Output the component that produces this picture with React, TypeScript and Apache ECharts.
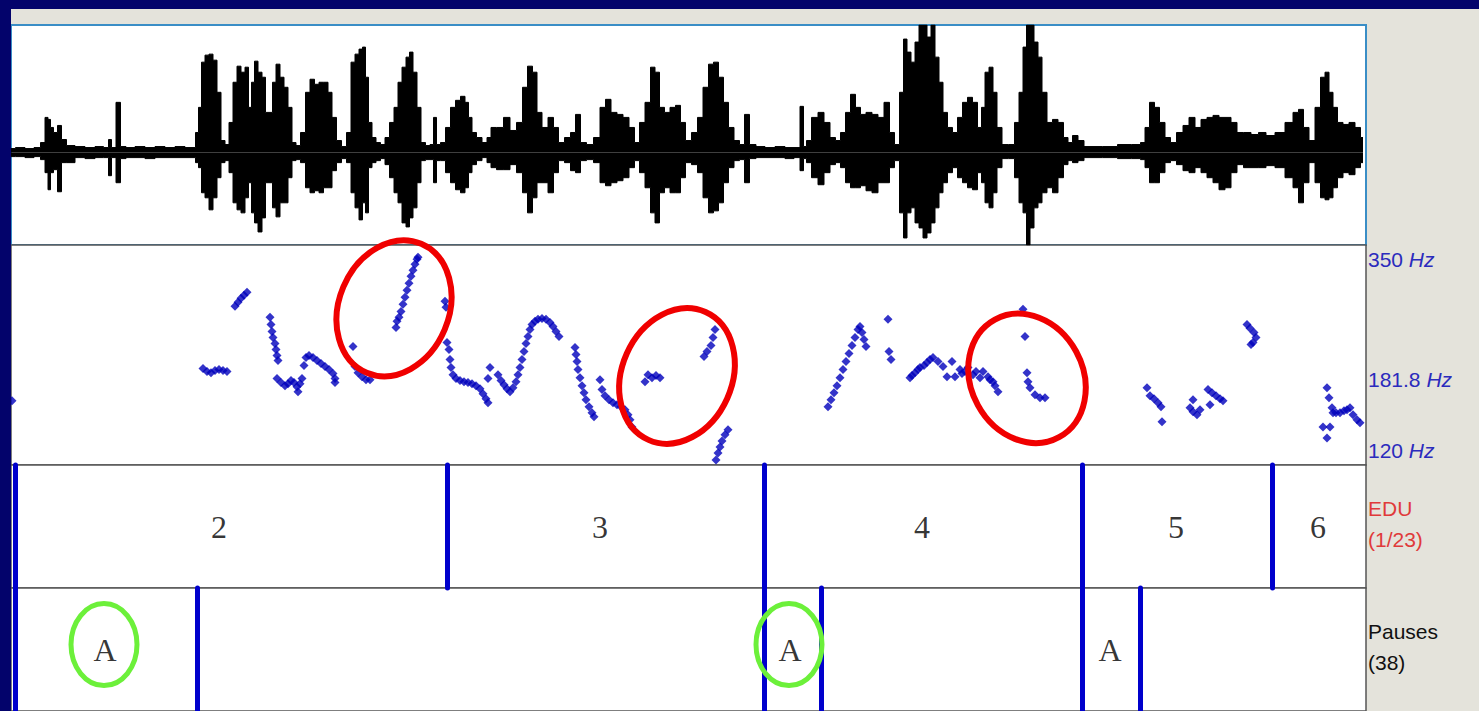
import React, { useEffect, useRef } from "react";
import * as echarts from "echarts";

// ---- time axis (seconds) ----
const TIME_MAX = 13.55;

// ---- waveform envelope: [time s, upper amplitude, lower amplitude] ----
const waveEnvelope: number[][] = [
  [0.00,0.04,-0.04],[0.09,0.05,-0.04],[0.19,0.04,-0.05],[0.27,0.05,-0.04],[0.32,0.10,-0.07],[0.36,0.35,-0.20],[0.38,0.33,-0.37],[0.41,0.25,-0.20],[0.44,0.20,-0.17],[0.49,0.27,-0.39],[0.52,0.13,-0.10],[0.59,0.07,-0.10],[0.69,0.06,-0.05],[0.79,0.05,-0.06],[0.89,0.06,-0.05],[0.96,0.05,-0.05],[0.99,0.13,-0.23],[1.02,0.05,-0.05],[1.08,0.50,-0.30],[1.11,0.06,-0.06],[1.19,0.05,-0.05],[1.29,0.06,-0.05],[1.39,0.05,-0.06],[1.49,0.06,-0.05],[1.59,0.05,-0.05],[1.69,0.06,-0.05],[1.79,0.05,-0.05],[1.83,0.05,-0.05],
  [1.86,0.20,-0.10],[1.89,0.45,-0.15],[1.92,0.90,-0.40],[1.96,0.97,-0.45],[2.00,0.98,-0.57],[2.04,0.92,-0.45],[2.08,0.60,-0.25],[2.12,0.12,-0.10],[2.16,0.08,-0.08],[2.20,0.30,-0.20],[2.24,0.70,-0.50],[2.28,0.86,-0.57],[2.32,0.80,-0.60],[2.36,0.85,-0.45],[2.39,0.45,-0.30],[2.42,0.70,-0.60],[2.45,0.91,-0.70],[2.49,0.80,-0.79],[2.53,0.75,-0.65],[2.56,0.40,-0.30],[2.60,0.40,-0.30],[2.63,0.70,-0.55],[2.67,0.88,-0.64],[2.71,0.75,-0.50],[2.75,0.65,-0.50],[2.79,0.45,-0.25],[2.83,0.10,-0.08],[2.87,0.07,-0.07],
  [2.92,0.20,-0.10],[2.97,0.60,-0.35],[3.01,0.73,-0.40],[3.06,0.68,-0.38],[3.10,0.70,-0.40],[3.15,0.70,-0.35],[3.19,0.60,-0.35],[3.23,0.35,-0.18],[3.28,0.12,-0.10],[3.33,0.06,-0.06],[3.38,0.20,-0.10],[3.42,0.90,-0.40],[3.46,0.98,-0.55],[3.50,1.03,-0.67],[3.53,1.05,-0.50],[3.56,0.75,-0.60],[3.59,0.30,-0.15],[3.63,0.15,-0.10],[3.67,0.10,-0.08],[3.72,0.08,-0.06],[3.76,0.15,-0.12],[3.81,0.30,-0.25],[3.85,0.45,-0.40],[3.89,0.70,-0.50],[3.93,0.85,-0.70],[3.97,0.95,-0.74],[4.00,1.00,-0.65],[4.04,0.80,-0.55],[4.08,0.45,-0.30],[4.12,0.10,-0.08],[4.17,0.07,-0.07],[4.21,0.08,-0.07],[4.24,0.35,-0.30],[4.27,0.08,-0.08],[4.32,0.10,-0.08],
  [4.37,0.25,-0.20],[4.42,0.45,-0.30],[4.47,0.52,-0.37],[4.52,0.56,-0.40],[4.56,0.50,-0.35],[4.59,0.35,-0.20],[4.63,0.20,-0.12],[4.68,0.15,-0.08],[4.74,0.10,-0.05],[4.78,0.15,-0.10],[4.82,0.25,-0.15],[4.89,0.25,-0.17],[4.96,0.35,-0.17],[5.02,0.22,-0.12],[5.09,0.30,-0.20],[5.14,0.65,-0.40],[5.19,0.86,-0.60],[5.24,0.80,-0.45],[5.28,0.40,-0.30],[5.34,0.25,-0.30],[5.40,0.35,-0.40],[5.45,0.25,-0.20],[5.50,0.10,-0.08],[5.57,0.15,-0.10],[5.62,0.20,-0.18],[5.67,0.38,-0.20],[5.72,0.10,-0.08],[5.79,0.08,-0.07],
  [5.86,0.15,-0.10],[5.92,0.45,-0.30],[5.97,0.53,-0.33],[6.03,0.40,-0.30],[6.09,0.38,-0.28],[6.15,0.35,-0.25],[6.21,0.25,-0.15],[6.26,0.10,-0.08],[6.31,0.30,-0.20],[6.37,0.50,-0.35],[6.42,0.85,-0.60],[6.46,0.80,-0.70],[6.51,0.45,-0.40],[6.56,0.40,-0.35],[6.62,0.45,-0.40],[6.67,0.47,-0.40],[6.72,0.30,-0.25],[6.77,0.12,-0.10],[6.84,0.20,-0.12],[6.89,0.35,-0.20],[6.95,0.65,-0.45],[7.00,0.88,-0.60],[7.05,0.90,-0.58],[7.10,0.75,-0.50],[7.15,0.50,-0.30],[7.20,0.25,-0.15],[7.26,0.12,-0.08],[7.31,0.08,-0.07],[7.36,0.38,-0.30],[7.41,0.08,-0.06],[7.49,0.06,-0.05],[7.59,0.05,-0.05],[7.69,0.06,-0.05],[7.79,0.05,-0.06],[7.87,0.05,-0.05],[7.91,0.46,-0.18],[7.94,0.06,-0.06],
  [7.97,0.12,-0.10],[8.04,0.35,-0.25],[8.10,0.40,-0.32],[8.16,0.30,-0.20],[8.22,0.15,-0.12],[8.27,0.12,-0.10],[8.32,0.20,-0.15],[8.37,0.40,-0.30],[8.42,0.58,-0.35],[8.47,0.45,-0.35],[8.52,0.38,-0.33],[8.58,0.40,-0.38],[8.64,0.38,-0.40],[8.70,0.35,-0.30],[8.76,0.50,-0.30],[8.81,0.20,-0.15],[8.86,0.08,-0.08],[8.91,0.60,-0.60],[8.94,1.13,-0.85],[8.98,1.00,-0.60],[9.02,0.90,-0.55],[9.06,1.10,-0.70],[9.10,1.27,-0.75],[9.14,1.27,-0.85],[9.18,1.15,-0.80],[9.22,1.27,-0.70],[9.26,0.95,-0.55],[9.30,0.70,-0.40],[9.34,0.40,-0.30],[9.39,0.25,-0.20],
  [9.44,0.20,-0.15],[9.49,0.35,-0.25],[9.54,0.50,-0.30],[9.59,0.55,-0.35],[9.64,0.50,-0.37],[9.69,0.25,-0.20],[9.72,0.45,-0.30],[9.76,0.80,-0.50],[9.80,0.85,-0.55],[9.84,0.60,-0.40],[9.88,0.25,-0.15],[9.94,0.08,-0.06],[10.01,0.08,-0.06],[10.06,0.30,-0.25],[10.10,0.60,-0.50],[10.14,1.05,-0.60],[10.17,1.27,-0.92],[10.21,1.27,-0.75],[10.25,1.10,-0.55],[10.29,0.95,-0.50],[10.33,0.60,-0.40],[10.39,0.30,-0.35],[10.44,0.33,-0.40],[10.50,0.30,-0.25],[10.55,0.15,-0.12],[10.59,0.10,-0.08],[10.64,0.17,-0.10],[10.70,0.12,-0.08],[10.76,0.06,-0.05],[10.84,0.06,-0.05],[10.99,0.06,-0.05],[11.14,0.08,-0.06],[11.27,0.08,-0.06],[11.32,0.10,-0.07],
  [11.36,0.25,-0.15],[11.41,0.50,-0.30],[11.46,0.45,-0.30],[11.51,0.30,-0.20],[11.57,0.15,-0.10],[11.62,0.10,-0.08],[11.69,0.20,-0.12],[11.75,0.27,-0.18],[11.81,0.35,-0.20],[11.87,0.25,-0.15],[11.93,0.33,-0.20],[11.99,0.35,-0.25],[12.05,0.37,-0.30],[12.11,0.35,-0.37],[12.17,0.35,-0.35],[12.23,0.30,-0.20],[12.29,0.20,-0.12],[12.36,0.20,-0.15],[12.44,0.18,-0.15],[12.51,0.20,-0.15],[12.59,0.17,-0.13],[12.69,0.20,-0.15],[12.79,0.30,-0.25],[12.85,0.40,-0.35],[12.90,0.43,-0.50],[12.95,0.25,-0.30],[13.01,0.12,-0.10],[13.07,0.45,-0.30],[13.12,0.75,-0.45],[13.16,0.80,-0.47],[13.20,0.60,-0.45],[13.24,0.45,-0.35],[13.29,0.30,-0.25],[13.35,0.28,-0.20],[13.41,0.30,-0.22],[13.47,0.25,-0.15],[13.52,0.15,-0.10],
];
const WAVE_MIN = -0.92;
const WAVE_MAX = 1.27;

// ---- pitch track: [time s, semitones above 120 Hz] ----
const PITCH_REF_HZ = 120;
const PITCH_TOP_HZ = 350;
const pitchTickHz = [350, 181.8, 120];
const pitchPoints: number[][] = [
  [0.01,5.41],
  [1.92,8.12],[1.96,7.87],[2.00,7.78],[2.04,7.95],[2.08,8.04],[2.12,7.95],[2.16,7.87],
  [2.24,13.37],[2.27,13.71],[2.30,14.04],[2.33,14.30],[2.36,14.55],
  [2.59,12.44],[2.60,11.84],[2.61,11.25],[2.62,10.74],[2.64,10.24],[2.65,9.73],[2.66,9.22],[2.67,8.80],
  [2.66,7.28],[2.70,6.94],[2.74,6.68],[2.77,6.85],[2.80,7.11],[2.83,6.94],[2.86,6.60],[2.87,6.18],[2.89,6.85],[2.91,7.28],[2.93,8.38],[2.95,9.05],[2.98,9.22],[3.02,9.05],[3.06,8.80],[3.10,8.54],[3.14,8.29],[3.18,8.04],[3.22,7.70],[3.24,7.28],[3.24,6.94],
  [3.42,9.98],[3.44,8.29],[3.47,7.78],[3.51,7.44],[3.55,7.19],[3.59,7.19],
  [3.85,11.59],[3.86,12.10],[3.88,12.44],[3.90,12.94],[3.92,13.54],[3.94,14.13],[3.96,14.72],[3.98,15.31],[4.00,15.90],[4.02,16.41],[4.04,16.92],[4.06,17.34],[4.07,17.51],
  [4.34,13.79],[4.35,13.28],[4.36,10.32],[4.38,9.73],
  [4.39,8.88],[4.40,8.21],[4.42,7.61],[4.45,7.28],[4.49,7.11],[4.53,7.02],[4.57,6.94],[4.61,6.85],[4.65,6.68],[4.69,6.43],[4.72,6.01],[4.75,5.58],[4.77,5.25],[4.79,8.21],[4.77,7.28],
  [4.87,7.61],[4.90,7.11],[4.93,6.77],[4.96,6.43],[4.99,6.18],[5.02,6.51],[5.05,7.02],[5.07,7.61],[5.09,8.21],[5.11,8.88],[5.13,9.56],[5.15,10.24],[5.17,10.83],[5.19,11.42],[5.21,11.84],[5.24,12.10],[5.27,12.27],[5.31,12.35],[5.35,12.27],[5.39,12.01],[5.42,11.67],[5.45,11.25],[5.48,10.83],
  [5.64,9.90],[5.65,9.31],[5.66,8.71],[5.67,8.04],[5.69,7.36],[5.71,6.68],[5.73,6.09],[5.75,5.50],[5.78,4.91],[5.81,4.40],[5.83,4.06],
  [5.89,7.19],[5.91,6.35],[5.94,5.84],[5.98,5.50],[6.02,5.25],[6.06,5.08],[6.10,4.91],[6.14,4.65],[6.17,4.23],[6.19,3.81],[6.21,3.21],
  [6.34,7.02],[6.37,7.61],[6.41,7.36],[6.45,7.53],[6.49,7.36],
  [6.93,9.14],[6.96,9.56],[7.00,10.07],[7.02,10.74],[7.04,11.42],
  [7.05,0.42],[7.07,1.02],[7.09,1.52],[7.11,2.03],[7.14,2.54],[7.17,2.96],
  [8.17,4.91],[8.20,5.50],[8.23,6.09],[8.26,6.68],[8.29,7.36],[8.32,8.04],[8.35,8.71],[8.38,9.39],[8.41,10.07],[8.44,10.74],[8.47,11.42],[8.49,11.67],[8.51,11.17],[8.53,10.58],[8.55,9.98],
  [8.77,12.27],[8.78,9.56],[8.80,8.88],
  [8.99,7.36],[9.01,7.53],[9.04,7.78],[9.07,8.04],[9.09,8.21],[9.13,8.38],[9.16,8.63],[9.19,8.88],[9.22,9.05],[9.27,8.71],[9.32,8.29],[9.36,7.44],[9.41,8.71],[9.44,7.44],[9.49,8.04],[9.51,7.70],[9.54,7.87],[9.57,8.21],[9.62,7.61],[9.65,7.87],[9.69,7.36],[9.72,7.87],[9.77,7.44],[9.79,7.19],[9.82,7.02],[9.84,6.68],[9.87,6.18],
  [10.12,13.11],[10.14,10.83],[10.16,7.78],[10.17,7.02],[10.19,6.51],[10.24,5.92],[10.29,5.67],[10.34,5.67],
  [11.36,6.51],[11.39,5.84],[11.43,5.58],[11.47,5.25],[11.50,4.91],[11.51,3.64],
  [11.79,4.82],[11.82,5.50],[11.82,4.48],[11.86,4.23],[11.89,4.65],[11.97,6.35],[11.99,5.08],[12.01,6.09],[12.05,5.84],[12.09,5.58],[12.12,5.41],
  [12.36,11.84],[12.39,11.51],[12.42,10.32],[12.40,10.15],[12.43,11.17],[12.45,10.74],
  [13.12,3.21],[13.16,6.51],[13.16,2.28],[13.18,5.67],[13.19,3.21],[13.21,4.82],[13.22,4.40],[13.25,4.40],[13.29,4.40],[13.33,4.57],[13.36,4.65],[13.39,4.82],[13.42,4.23],[13.46,3.81],[13.49,3.55],
];

// ---- annotation tiers ----
const eduBoundaries = [0.04, 4.36, 7.53, 10.71, 12.61];
const eduLabels = ["2", "3", "4", "5", "6"];
const eduLabelTimes = [2.08, 5.89, 9.11, 11.65, 13.07];
const pauseBoundaries = [0.04, 1.86, 7.53, 8.10, 10.71, 11.29];
const pauseLabels = ["A", "A", "A"];
const pauseLabelTimes = [0.94, 7.79, 10.99];
const tierNames = [["EDU", "(1/23)"], ["Pauses", "(38)"]];

// ---- highlight marks (time, value in their panel) ----
const redMarks = [[3.83, 13.2], [6.66, 7.5], [10.16, 7.3]];
const greenMarks = [[0.93, 0.54], [7.78, 0.54]];

const st = (hz: number) => 12 * Math.log2(hz / PITCH_REF_HZ);

const SANS = '"Liberation Sans", Arial, sans-serif';
const SERIF = '"Liberation Serif", "Times New Roman", serif';
const BLUE_TXT = "#2b2bbd";
const BOUND = "#0000cc";

export default function App() {
  const ref = useRef<HTMLDivElement>(null);
  useEffect(() => {
    const el = ref.current!;
    const chart = echarts.init(el, null, { renderer: "svg" });
    const L = 11, W = 1355;
    const gridBase = { left: L, width: W, show: true, backgroundColor: "#ffffff" };
    const tierSeries = (gi: number, labels: string[], times: number[], bounds: number[]) => ({
      type: "scatter",
      xAxisIndex: gi,
      yAxisIndex: gi,
      symbol: "circle",
      symbolSize: 1,
      itemStyle: { color: "rgba(0,0,0,0)" },
      silent: true,
      data: labels.map((lab, i) => ({ name: lab, value: [times[i], 0.5] })),
      label: {
        show: true,
        position: "inside",
        formatter: "{b}",
        fontFamily: SERIF,
        fontSize: 32,
        color: "#000",
      },
      markLine: {
        silent: true,
        symbol: "none",
        label: { show: false },
        lineStyle: { color: BOUND, width: 5, type: "solid", cap: "round" },
        data: bounds.map((t) => ({ xAxis: t })),
      },
    });
    const waveSeries = (col: number) => ({
      type: "line",
      xAxisIndex: 0,
      yAxisIndex: 0,
      showSymbol: false,
      silent: true,
      step: "middle",
      data: waveEnvelope.map((d) => [d[0], d[col]]),
      lineStyle: { color: "#000", width: 1 },
      areaStyle: { color: "#000", opacity: 1 },
    });
    const option: any = {
      animation: false,
      backgroundColor: "#e4e3db",
      grid: [
        { ...gridBase, top: 25, height: 220, borderColor: "#3a8ec6", borderWidth: 2 },
        { ...gridBase, top: 245, height: 220, borderColor: "#555", borderWidth: 1.5 },
        { ...gridBase, top: 465, height: 123, borderColor: "#555", borderWidth: 1.5 },
        { ...gridBase, top: 588, height: 123, borderColor: "#555", borderWidth: 1.5 },
      ],
      xAxis: [0, 1, 2, 3].map((i) => ({ type: "value", gridIndex: i, min: 0, max: TIME_MAX, show: false })),
      yAxis: [
        { type: "value", gridIndex: 0, min: WAVE_MIN, max: WAVE_MAX, show: false },
        { type: "value", gridIndex: 1, min: 0, max: st(PITCH_TOP_HZ), show: false },
        { type: "value", gridIndex: 2, min: 0, max: 1, show: false },
        { type: "value", gridIndex: 3, min: 0, max: 1, show: false },
      ],
      series: [
        waveSeries(1),
        waveSeries(2),
        {
          type: "scatter",
          xAxisIndex: 1,
          yAxisIndex: 1,
          symbol: "diamond",
          symbolSize: 9,
          silent: true,
          itemStyle: { color: "#0000bb" },
          data: pitchPoints,
        },
        tierSeries(2, eduLabels, eduLabelTimes, eduBoundaries),
        tierSeries(3, pauseLabels, pauseLabelTimes, pauseBoundaries),
      ],
    };
    chart.setOption(option);

    const px = (g: number, p: number[]) => chart.convertToPixel({ gridIndex: g } as any, p) as number[];
    const textX = L + W + 2;
    const g: any[] = [
      { type: "rect", shape: { x: 0, y: 0, width: 1479, height: 9 }, style: { fill: "#03036b" }, z: 50 },
      { type: "rect", shape: { x: 0, y: 0, width: 11, height: 711 }, style: { fill: "#03036b" }, z: 50 },
    ];
    pitchTickHz.forEach((hz, i) => {
      const y = px(1, [0, st(hz)])[1];
      const last = pitchTickHz.length - 1;
      const va = i === 0 ? "top" : i === last ? "bottom" : "middle";
      const yy = i === 0 ? y + 4 : i === last ? y - 4 : y;
      g.push({
        type: "text",
        x: textX,
        y: yy,
        z: 60,
        style: {
          text: `{n|${hz} }{i|Hz}`,
          align: "left",
          verticalAlign: va,
          rich: {
            n: { fill: BLUE_TXT, fontSize: 21, fontFamily: SANS },
            i: { fill: BLUE_TXT, fontSize: 21, fontFamily: SANS, fontStyle: "italic" },
          },
        },
      });
    });
    const tierColors = ["#e03a3a", "#111"];
    [2, 3].forEach((gi, k) => {
      const top = gi === 2 ? 465 : 588;
      tierNames[k].forEach((line, j) => {
        g.push({
          type: "text",
          x: textX,
          y: top + 43 + j * 31,
          z: 60,
          style: {
            text: line,
            fill: tierColors[k],
            font: `21px ${SANS}`,
            align: "left",
            verticalAlign: "middle",
          },
        });
      });
    });
    const redShape = [
      { rx: 55, ry: 70, rot: -0.4 },
      { rx: 55, ry: 70, rot: -0.42 },
      { rx: 56, ry: 67, rot: 0.5 },
    ];
    redMarks.forEach((m, i) => {
      const [x, y] = px(1, m);
      g.push({
        type: "ellipse",
        x,
        y,
        rotation: redShape[i].rot,
        z: 70,
        shape: { cx: 0, cy: 0, rx: redShape[i].rx, ry: redShape[i].ry },
        style: { fill: "none", stroke: "#f00000", lineWidth: 6 },
      });
    });
    greenMarks.forEach((m) => {
      const [x, y] = px(3, m);
      g.push({
        type: "ellipse",
        x,
        y,
        z: 70,
        shape: { cx: 0, cy: 0, rx: 33, ry: 41 },
        style: { fill: "none", stroke: "#6cf03a", lineWidth: 5 },
      });
    });
    chart.setOption({ graphic: g });
    return () => chart.dispose();
  }, []);
  return (
    <div
      ref={ref}
      style={{ position: "fixed", left: 0, top: 0, width: "1479px", height: "711px" }}
    />
  );
}
